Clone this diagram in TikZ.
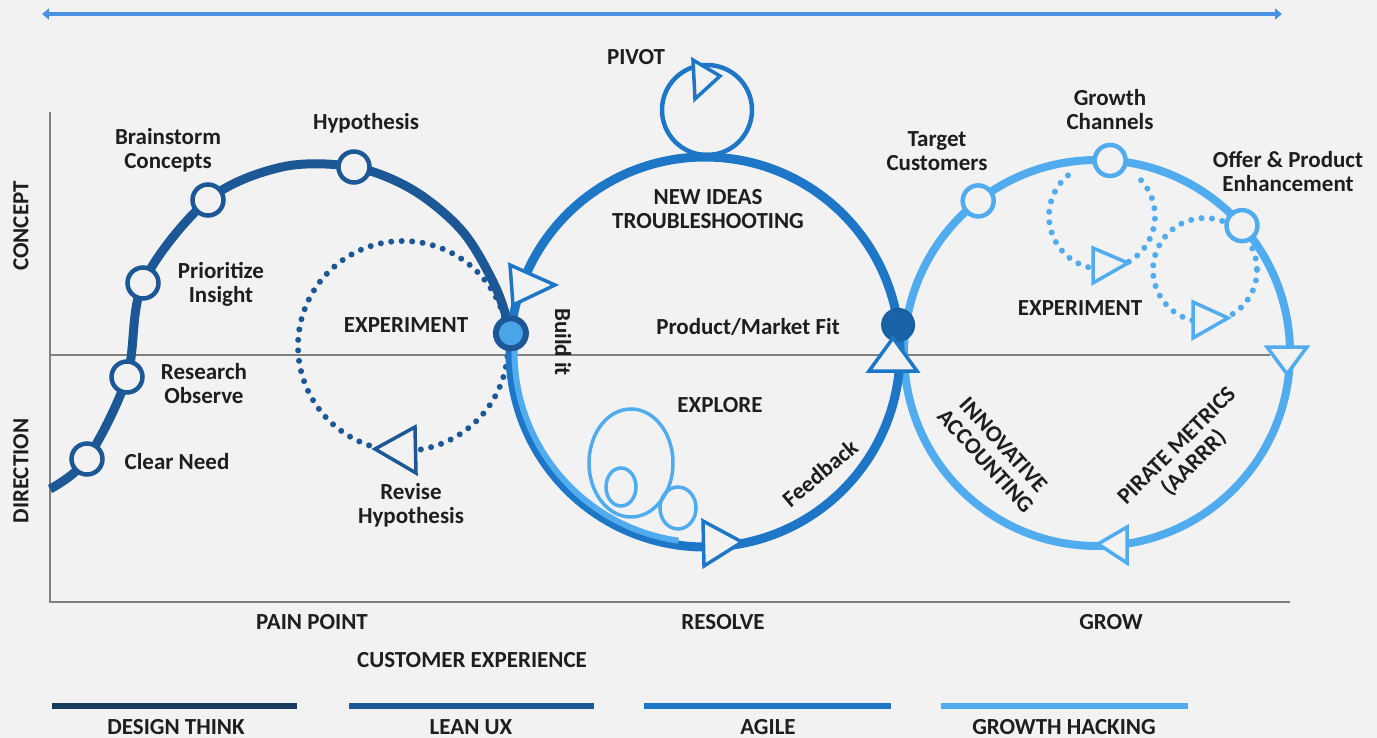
\documentclass[tikz,border=0pt]{standalone}
\usepackage{fontspec}
\setmainfont{Carlito}
\usepackage{tikz}
\usetikzlibrary{calc,arrows.meta}
\definecolor{mybg}{RGB}{242,242,242}
\definecolor{mytext}{RGB}{30,30,30}
\definecolor{mygray}{RGB}{128,128,128}
\definecolor{mydesign}{RGB}{22,58,96}
\definecolor{myleanux}{RGB}{28,88,150}
\definecolor{myagile}{RGB}{30,118,198}
\definecolor{mygrowth}{RGB}{80,172,238}
\definecolor{mytop}{RGB}{74,146,226}
\pgfdeclarelayer{back}
\pgfdeclarelayer{lines}
\pgfsetlayers{back,lines,main}
\tikzstyle{lbl}=[font=\fontsize{23}{24}\selectfont\bfseries,text=mytext,align=center,inner sep=0pt]
\tikzstyle{stage}=[draw=myleanux,line width=4.5pt,fill=mybg,circle,minimum size=31pt,inner sep=0pt]
\tikzstyle{gstage}=[stage,draw=mygrowth]
\tikzstyle{tri}=[line width=3.5pt,fill=mybg,line join=miter]
\tikzstyle{dots}=[line width=6pt,line cap=round,dash pattern=on 0pt off 10.5pt]
\tikzstyle{axis}=[draw=mygray,line width=2.5pt]
\tikzstyle{swatch}=[line width=5.5pt]

\begin{document}
\begin{tikzpicture}[x=1pt,y=-1pt]
\useasboundingbox (0,0) rectangle (1377,738);
\begin{pgfonlayer}{back}
\fill[mybg] (0,0) rectangle (1377,738);
\end{pgfonlayer}
\coordinate (ta-l) at (42,14);
\coordinate (ta-r) at (1282,14);
\coordinate (ax-t) at (50,112);
\coordinate (ax-o) at (50,602);
\coordinate (ax-r) at (1290,602);
\coordinate (mid-l) at (50,355);
\coordinate (mid-r) at (1270,355);
\coordinate (mc) at (705,352);
\coordinate (rc) at (1097,353);
\coordinate (lc) at (403,346);
\coordinate (dt-start) at (50,489);
\coordinate (dt-a) at (282,167);
\coordinate (dt-b) at (413,190);
\coordinate (dt-c) at (463,232);
\coordinate (dt-d) at (496,288);
\draw (87,459) node [stage] (cneed) {};
\draw (127,377) node [stage] (robs) {};
\draw (143,283) node [stage] (prio) {};
\draw (208,200) node [stage] (brain) {};
\draw (354,167) node [stage] (hypo) {};
\draw ($(rc)+(232:193)$) node [gstage] (target) {};
\draw ($(rc)+(273.9:193)$) node [gstage] (channels) {};
\draw ($(rc)+(318.7:193)$) node [gstage] (offer) {};
\draw ($(mc)+(185.5:195)$) node [circle,draw=myleanux,fill=mygrowth!85!myagile,line width=6pt,minimum size=30pt,inner sep=0pt] (jl) {};
\draw ($(mc)+(352:195)$) node [circle,draw=myagile!80!black,fill=myagile!85!black,line width=2pt,minimum size=32pt,inner sep=0pt] (jr) {};
\draw (707,110) node [circle,draw=myagile,line width=4.5pt,minimum size=90pt,inner sep=0pt] (pivotloop) {};
\begin{pgfonlayer}{lines}
\draw[axis] (ax-t) -- (ax-o) -- (ax-r);
\draw[mygray,line width=2pt] (mid-l) -- (mid-r);
\draw[mytop,line width=3.5pt,{Triangle[width=11pt,length=7pt]}-{Triangle[width=11pt,length=7pt]}] (ta-l) -- (ta-r);
\draw[dots,myleanux] (lc) circle[radius=105];
\draw[dots,mygrowth] (1102,216) ++(230:53) arc[start angle=230,end angle=-50,radius=53];
\draw[dots,mygrowth] (1205,270) circle[radius=52];
\draw[myleanux,line width=9pt] plot[smooth,tension=0.55] coordinates {(dt-start) (cneed) (robs) (prio) (brain) (dt-a) (hypo) (dt-b) (dt-c) (dt-d) (jl)};
\draw[mygrowth,line width=8pt] (rc) circle[radius=193];
\draw[myagile,line width=9pt] (jl.center) arc[start angle=185.5,end angle=352,radius=195];
\draw[myagile,line width=9pt] (jr.center) arc[start angle=-8,end angle=185.5,radius=195];
\draw[mygrowth,line width=6pt] ($(mc)+(184:190.5)$) arc[start angle=184,end angle=98,radius=190.5];
\draw[mygrowth,line width=3.5pt] (631,463) ellipse[x radius=42,y radius=54];
\draw[mygrowth,line width=3.5pt] (621,487) ellipse[x radius=15,y radius=19];
\draw[mygrowth,line width=3.5pt] (678,508) ellipse[x radius=18,y radius=21];
\end{pgfonlayer}
\draw[tri,draw=myagile] (510,265) -- (555,285) -- (513,305) -- cycle;
\draw[tri,draw=myagile] (703,521) -- (742,542) -- (704,566) -- cycle;
\draw[tri,draw=myagile] (893,338) -- (917,371) -- (869,371) -- cycle;
\draw[tri,draw=mygrowth] (1267,347) -- (1307,347) -- (1287,374) -- cycle;
\draw[tri,draw=mygrowth] (1098,544) -- (1127,527) -- (1127,563) -- cycle;
\draw[tri,draw=myleanux] (375,449) -- (415,427) -- (416,473) -- cycle;
\draw[tri,draw=mygrowth] (1093,248) -- (1128,263) -- (1093,283) -- cycle;
\draw[tri,draw=mygrowth] (1193,302) -- (1228,318) -- (1193,338) -- cycle;
\draw[tri,draw=myagile] (693,60) -- (720,76) -- (695,99) -- cycle;
\draw (636,57) node [lbl] (l-pivot) {PIVOT};
\draw (708,209) node [lbl] (l-ideas) {NEW IDEAS\\TROUBLESHOOTING};
\draw (748,327) node [lbl] (l-pmf) {Product/Market Fit};
\draw (720,405) node [lbl] (l-explore) {EXPLORE};
\draw (820,473) node [lbl,rotate=40] (l-feedback) {Feedback};
\draw (563,342) node [lbl,rotate=-90] (l-build) {Build it};
\draw (937,151) node [lbl] (l-target) {Target\\Customers};
\draw (1110,110) node [lbl] (l-channels) {Growth\\Channels};
\draw (1288,172) node [lbl] (l-offer) {Offer \& Product\\Enhancement};
\draw (1080,308) node [lbl] (l-gexp) {EXPERIMENT};
\draw (995,453) node [lbl,rotate=-48] (l-innov) {INNOVATIVE\\ACCOUNTING};
\draw (1186,455) node [lbl,rotate=45] (l-pirate) {PIRATE METRICS\\(AARRR)};
\draw (168,150) node [lbl] (l-brain) {Brainstorm\\Concepts};
\draw (366,123) node [lbl] (l-hypo) {Hypothesis};
\draw (221,284) node [lbl] (l-prio) {Prioritize\\Insight};
\draw (204,384) node [lbl] (l-robs) {Research\\Observe};
\draw (177,462) node [lbl] (l-cneed) {Clear Need};
\draw (406,325) node [lbl] (l-exp) {EXPERIMENT};
\draw (411,505) node [lbl] (l-revise) {Revise\\Hypothesis};
\draw (21,226) node [lbl,rotate=90] (l-concept) {CONCEPT};
\draw (21,471) node [lbl,rotate=90] (l-direction) {DIRECTION};
\draw (312,622) node [lbl] (l-pain) {PAIN POINT};
\draw (723,622) node [lbl] (l-resolve) {RESOLVE};
\draw (1111,622) node [lbl] (l-grow) {GROW};
\draw (472,660) node [lbl] (l-cx) {CUSTOMER EXPERIENCE};
\draw[swatch,mydesign] (52,706) -- (297,706);
\draw[swatch,myleanux] (349,706) -- (594,706);
\draw[swatch,myagile] (644,706) -- (891,706);
\draw[swatch,mygrowth] (941,706) -- (1188,706);
\draw (176,727) node [lbl] (lg-design) {DESIGN THINK};
\draw (471,727) node [lbl] (lg-leanux) {LEAN UX};
\draw (768,727) node [lbl] (lg-agile) {AGILE};
\draw (1064,727) node [lbl] (lg-growth) {GROWTH HACKING};
\end{tikzpicture}
\end{document}
